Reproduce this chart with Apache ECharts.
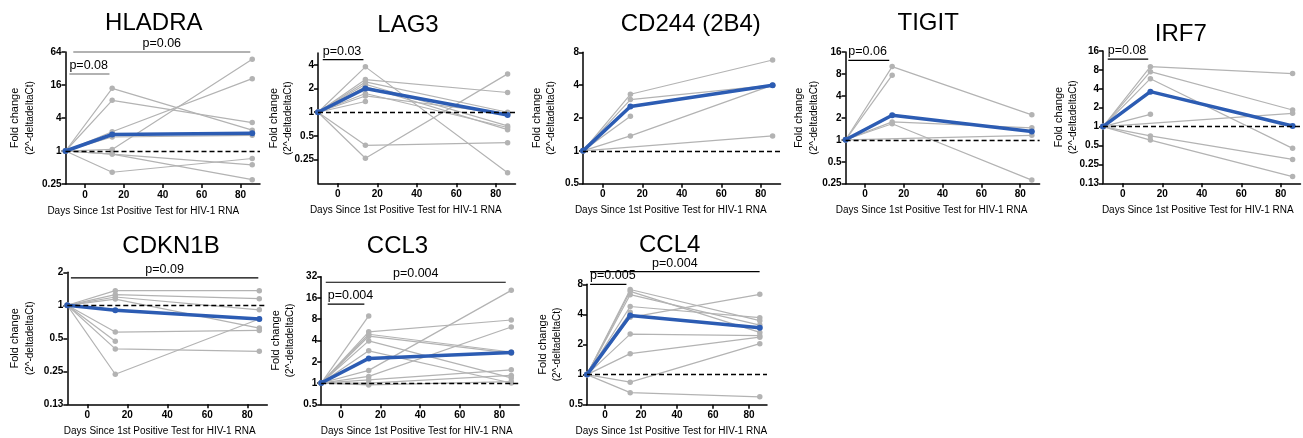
<!DOCTYPE html>
<html>
<head>
<meta charset="utf-8">
<script src="https://cdn.jsdelivr.net/npm/echarts@6/dist/echarts.min.js"></script>
<style>
  html, body { margin: 0; padding: 0; background: #fff; }
  #chart { width: 1303px; height: 438px; }
</style>
</head>
<body>
<div id="chart"></div>
<script>
  // sampling days (days since 1st positive HIV-1 RNA test)
  const days = [-10, 14, 86];
  const xTicks = [0, 20, 40, 60, 80];

  // fold change (2^-ddCt) per subject at each day, null = no sample
  const hladra = [
    [1, 13.9, 2.4], [1, 8.4, 3.3], [1, 2.25, 20.9], [1, 1.07, 47],
    [1, 1.8, 1.93], [1, 0.88, 0.56], [1, 0.88, 0.30], [1, 0.41, 0.73]
  ];
  const hladraMean = [1, 2.0, 2.1];

  const lag3 = [
    [1, 3.77, 0.17], [1, 2.6, 1.78], [1, 2.43, 1.0], [1, 2.27, 0.67], [1, 2.12, 0.60],
    [1, 1.73, 0.64], [1, 1.61, 0.95], [1, 1.37, null], [1, 0.38, 0.41], [1, 0.26, 3.07]
  ];
  const lag3Mean = [1, 2.0, 0.92];

  const cd244 = [
    [1, 3.3, 6.8], [1, 2.95, 4.0], [1, 2.08, null], [1, 1.37, 4.0], [1, null, 1.37]
  ];
  const cd244Mean = [1, 2.55, 4.0];

  const tigit = [
    [1, 10.1, 2.2], [1, 7.7, null], [1, 1.76, 1.46], [1, 1.66, 0.28], [1, null, 1.15]
  ];
  const tigitMean = [1, 2.17, 1.30];

  const irf7 = [
    [1, 9.0, 7.0], [1, 7.5, 1.84], [1, 5.8, 0.45], [1, 1.57, null],
    [1, null, 1.63], [1, 0.71, 0.30], [1, 0.61, 0.16]
  ];
  const irf7Mean = [1, 3.6, 1.02];

  const cdkn1b = [
    [1, 1.36, 1.36], [1, 1.25, 1.15], [1, 1.19, 0.91], [1, 1.14, 0.62],
    [1, 0.57, 0.59], [1, 0.47, null], [1, 0.40, 0.38], [1, 0.235, 0.75]
  ];
  const cdkn1bMean = [1, 0.90, 0.75];

  const ccl3 = [
    [1, 8.9, null], [1, 5.3, 7.8], [1, 4.9, 2.75], [1, 4.6, 2.65], [1, 3.95, 1.18], [1, 2.86, 1.0],
    [1, 1.51, 20.5], [1, 1.24, 6.2], [1, 1.11, 1.54], [1, 1.0, 1.28], [1, 0.94, 1.05]
  ];
  const ccl3Mean = [1, 2.23, 2.7];

  const ccl4 = [
    [1, 7.1, 3.46], [1, 6.8, 2.64], [1, 6.3, 3.13], [1, 4.8, 3.71], [1, 4.2, null],
    [1, 3.74, 6.35], [1, 2.54, 2.45], [1, 1.62, 2.37], [1, 0.84, 2.04], [1, 0.66, 0.60]
  ];
  const ccl4Mean = [1, 3.9, 2.94];

  // y axis range per gene: [min, max, logBase]
  const yRanges = [
    [0.25, 64, 4], [0.125, 5.657, 2], [0.5, 8, 2], [0.25, 16, 2],
    [0.125, 16, 2], [0.125, 2, 2], [0.5, 32, 2], [0.5, 8, 2]
  ];

  // p-value brackets: [from day, to day, fold level, text, centered]
  const pHladra = [[-8, 12.6, 25.4, 'p=0.08', false], [-6, 85, 64, 'p=0.06', true]];
  const pLag3 = [[-7.6, 13, 4.67, 'p=0.03', false]];
  const pTigit = [[-8.6, 12.5, 12.3, 'p=0.06', false]];
  const pIrf7 = [[-7.6, 12.9, 11.9, 'p=0.08', false]];
  const pCdkn1b = [[-8.2, 85.5, 1.78, 'p=0.09', true]];
  const pCcl3 = [[-6.7, 11.8, 13.1, 'p=0.004', false], [-7.7, 83.2, 26.7, 'p=0.004', true]];
  const pCcl4 = [[-8.3, 11.9, 8, 'p=0.005', false], [-8.3, 85.9, 10.7, 'p=0.004', true]];

  const panels = [
    { title: 'HLADRA', subjects: hladra, mean: hladraMean, p: pHladra },
    { title: 'LAG3', subjects: lag3, mean: lag3Mean, p: pLag3 },
    { title: 'CD244 (2B4)', subjects: cd244, mean: cd244Mean, p: [] },
    { title: 'TIGIT', subjects: tigit, mean: tigitMean, p: pTigit },
    { title: 'IRF7', subjects: irf7, mean: irf7Mean, p: pIrf7 },
    { title: 'CDKN1B', subjects: cdkn1b, mean: cdkn1bMean, p: pCdkn1b },
    { title: 'CCL3', subjects: ccl3, mean: ccl3Mean, p: pCcl3 },
    { title: 'CCL4', subjects: ccl4, mean: ccl4Mean, p: pCcl4 }
  ];

  // layout in px (grid box, title centre, name offsets)
  const layout = [
    { left: 65.5, top: 52, width: 194.5, height: 132, tx: 153.8, ty: 23.3, xShift: -19.5, yGap: 28, ends: true, pColor: '#666' },
    { left: 318, top: 53, width: 197.5, height: 130.3, tx: 408, ty: 25, xShift: -11, yGap: 22, ends: false, pColor: '#000' },
    { left: 583, top: 52.3, width: 197.5, height: 131.4, tx: 690.8, ty: 24, xShift: -11, yGap: 24, ends: true, pColor: '#000' },
    { left: 845.6, top: 52, width: 194, height: 131.7, tx: 928.2, ty: 23.3, xShift: -11, yGap: 24, ends: true, pColor: '#000' },
    { left: 1103, top: 51, width: 197.5, height: 132.3, tx: 1180.8, ty: 34.3, xShift: -4, yGap: 22, ends: true, pColor: '#000' },
    { left: 67.3, top: 272.3, width: 200, height: 132, tx: 171, ty: 246.7, xShift: -7.6, yGap: 30, ends: true, pColor: '#000' },
    { left: 321.2, top: 276.7, width: 198, height: 127.6, tx: 397.5, ty: 246, xShift: -3.5, yGap: 23, ends: true, pColor: '#000' },
    { left: 587, top: 284.3, width: 180, height: 120.4, tx: 669.7, ty: 245, xShift: -5.7, yGap: 22, ends: true, pColor: '#000' }
  ];

  const font = "'Liberation Sans', Arial, Helvetica, sans-serif";
  const gray = '#b3b3b3';
  const blue = '#2c5cb3';

  const chart = echarts.init(document.getElementById('chart'));

  let option = {
    animation: false,
    backgroundColor: '#fff',
    grid: [],
    xAxis: [],
    yAxis: [],
    series: [],
    graphic: []
  };

  panels.forEach((p, i) => {
    const g = layout[i];
    const r = yRanges[i];

    option.grid.push({ left: g.left, top: g.top, width: g.width, height: g.height });

    option.xAxis.push({
      gridIndex: i,
      type: 'value',
      min: -10,
      max: 90,
      name: 'Days Since 1st Positive Test for HIV-1 RNA',
      nameLocation: 'middle',
      nameGap: 22,
      nameTextStyle: { fontSize: 10, color: '#000', fontFamily: font, padding: [0, -2 * g.xShift, 0, 0] },
      axisLine: { show: true, onZero: false, lineStyle: { color: '#000', width: 1.5 } },
      axisTick: { show: true, length: 4, customValues: xTicks, lineStyle: { color: '#000', width: 1.5 } },
      axisLabel: { customValues: xTicks, fontSize: 10, fontWeight: 'bold', color: '#000', fontFamily: font, margin: 6 },
      splitLine: { show: false }
    });

    option.yAxis.push({
      gridIndex: i,
      type: 'log',
      logBase: r[2],
      min: r[0],
      max: r[1],
      name: '{a|Fold change}\n{b|(2^-deltadeltaCt)}',
      nameLocation: 'middle',
      nameRotate: 90,
      nameGap: g.yGap,
      nameMoveOverlap: false,
      nameTextStyle: {
        color: '#000', fontFamily: font,
        rich: {
          a: { fontSize: 11, lineHeight: 15, fontFamily: font, color: '#000' },
          b: { fontSize: 10, lineHeight: 15, fontFamily: font, color: '#000' }
        }
      },
      axisLine: { show: true, onZero: false, lineStyle: { color: '#000', width: 1.5 } },
      axisTick: { show: true, length: 4, lineStyle: { color: '#000', width: 1.5 } },
      axisLabel: {
        fontSize: 10, fontWeight: 'bold', color: '#000', fontFamily: font, margin: 4,
        showMinLabel: g.ends, showMaxLabel: g.ends,
        formatter: v => String(+(+v).toFixed(2))
      },
      splitLine: { show: false },
      minorTick: { show: false }
    });

    // individual subjects
    p.subjects.forEach(row => {
      option.series.push({
        type: 'line',
        xAxisIndex: i,
        yAxisIndex: i,
        data: days.map((d, j) => [d, row[j]]).filter(pt => pt[1] != null),
        symbol: 'circle',
        symbolSize: 5.5,
        lineStyle: { width: 1.2, color: gray },
        itemStyle: { color: gray },
        z: 2,
        silent: true
      });
    });

    // mean line + dashed baseline at 1
    option.series.push({
      type: 'line',
      xAxisIndex: i,
      yAxisIndex: i,
      data: days.map((d, j) => [d, p.mean[j]]),
      symbol: 'circle',
      symbolSize: 6,
      lineStyle: { width: 3.5, color: blue },
      itemStyle: { color: blue },
      z: 3,
      silent: true,
      markLine: {
        silent: true,
        symbol: 'none',
        label: { show: false },
        lineStyle: { type: [5, 3], color: '#000', width: 1.3 },
        data: [{ yAxis: 1 }]
      }
    });

    // p-value brackets
    p.p.forEach(b => {
      const lbl = { show: true, formatter: b[3], position: 'top', distance: 2, color: '#000', fontSize: 12.5, fontFamily: font };
      const pts = b[4]
        ? [[b[0], b[2]], { value: [(b[0] + b[1]) / 2, b[2]], label: lbl }, [b[1], b[2]]]
        : [{ value: [b[0], b[2]], label: Object.assign({ align: 'left' }, lbl) }, [b[1], b[2]]];
      option.series.push({
        type: 'line',
        xAxisIndex: i,
        yAxisIndex: i,
        data: pts,
        symbol: 'circle',
        symbolSize: 0,
        clip: false,
        lineStyle: { color: g.pColor, width: 1.2 },
        itemStyle: { color: 'transparent' },
        z: 4,
        silent: true
      });
    });

    option.graphic.push({
      type: 'text',
      x: g.tx,
      y: g.ty,
      style: { text: p.title, fontSize: 24, fontFamily: font, fill: '#000', align: 'center', verticalAlign: 'middle' }
    });
  });

  chart.setOption(option);
  window.addEventListener('resize', function () { chart.resize() });
</script>
</body>
</html>
